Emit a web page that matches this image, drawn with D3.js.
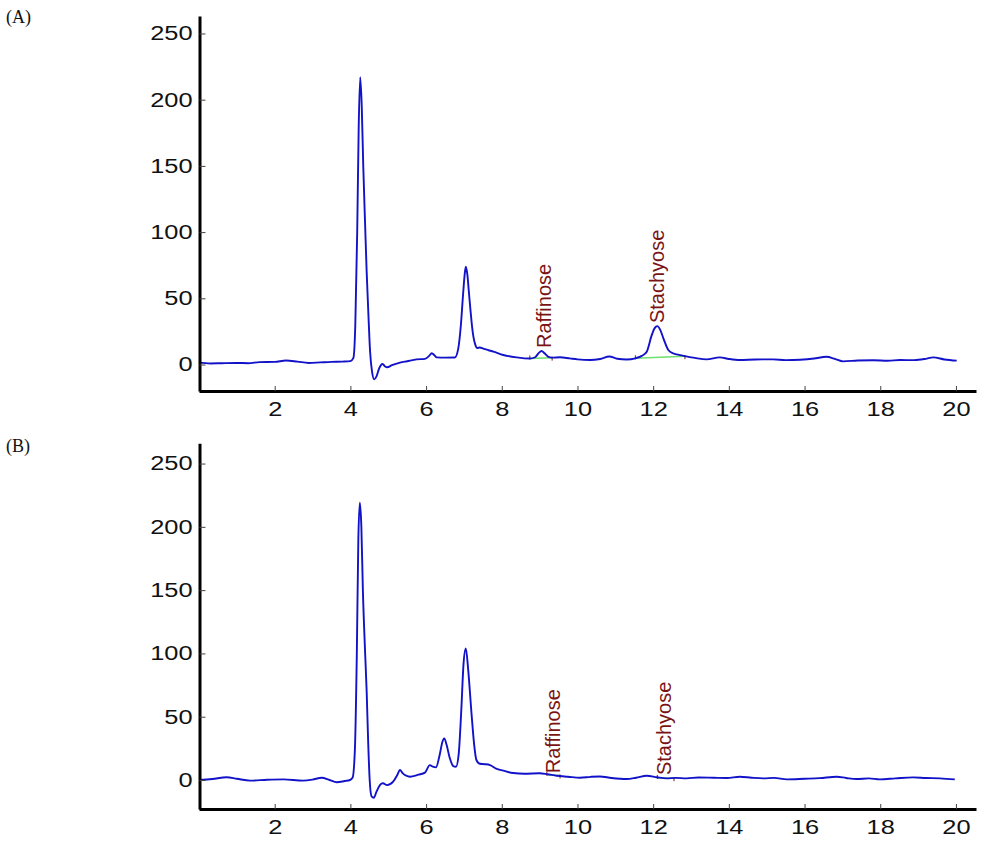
<!DOCTYPE html>
<html><head><meta charset="utf-8">
<script src="https://cdn.jsdelivr.net/npm/d3@7"></script>
<style>body{margin:0;background:#fff}svg{display:block}</style>
</head><body>
<svg id="c" width="984" height="843"></svg>
<script>
// ---- data ----
const xTicks = [2,4,6,8,10,12,14,16,18,20];
const yTicks = [0,50,100,150,200,250];
const panelLabels = ["(A)", "(B)"];

const timeA = [0,0.3,0.6,1.0,1.3,1.6,2.0,2.3,2.6,2.9,3.2,3.5,3.8,4.0,4.08,4.13,4.18,4.22,4.26,4.30,4.34,4.39,4.43,4.48,4.52,4.57,4.63,4.69,4.76,4.85,4.92,4.97,5.1,5.31,5.5,5.75,5.97,6.08,6.15,6.22,6.28,6.5,6.76,6.85,6.92,6.98,7.02,7.05,7.09,7.13,7.17,7.21,7.25,7.30,7.35,7.42,7.51,7.65,7.78,8.04,8.39,8.74,8.88,8.98,9.05,9.13,9.22,9.33,9.54,9.8,10.0,10.33,10.6,10.84,11.05,11.3,11.53,11.7,11.83,11.96,12.04,12.11,12.19,12.27,12.40,12.52,12.62,12.84,13.1,13.41,13.76,14.0,14.29,14.7,15.17,15.5,15.88,16.25,16.58,16.8,17.02,17.4,17.82,18.2,18.52,18.9,19.2,19.4,19.7,20.02];
const signalA = [1.4,0.8,1.0,1.2,1.0,1.8,2.0,3.0,2.2,1.2,1.6,2.0,2.2,2.6,5,30,100,180,217,195,150,105,70,35,10,-5,-11.2,-9,-3,0.4,-1.5,-2.1,-0.5,1.4,2.5,3.9,4.3,6.5,8.5,7,5.4,5.2,5.3,12,30,54,68,73.9,68,55,42,30,21,15,12.5,12.8,12.0,10.8,9.7,7.2,5.4,4.5,5.5,8.8,10.2,8.5,6.0,5.2,5.5,4.6,3.9,3.4,4.2,6.0,4.4,3.8,4.7,6.5,9.7,22,27.5,29,26,19.8,11,8.5,7.7,6.3,5.0,3.9,5.4,4.2,3.4,3.8,3.9,3.3,3.6,4.5,5.9,4.3,2.4,3.0,3.2,2.9,3.4,3.3,4.3,5.4,3.8,2.9];

const timeB = [0,0.35,0.73,1.0,1.35,1.8,2.23,2.75,3.0,3.24,3.45,3.64,3.85,3.99,4.06,4.12,4.17,4.21,4.25,4.29,4.33,4.39,4.43,4.47,4.51,4.56,4.62,4.69,4.78,4.86,4.97,5.13,5.24,5.31,5.38,5.44,5.57,5.8,5.97,6.1,6.18,6.26,6.36,6.43,6.48,6.54,6.62,6.72,6.79,6.86,6.93,6.99,7.05,7.11,7.2,7.27,7.33,7.42,7.55,7.69,7.85,8.04,8.3,8.6,9.0,9.2,9.45,9.75,10.07,10.35,10.59,10.9,11.3,11.55,11.83,12.1,12.35,12.6,12.88,13.2,13.59,13.95,14.29,14.6,14.91,15.2,15.53,16.0,16.4,16.85,17.1,17.37,17.7,17.99,18.4,18.87,19.2,19.58,19.97];
const signalB = [0,0.8,2.2,1.0,-0.5,0.2,0.5,-0.5,0.3,1.8,0.0,-1.8,-0.8,0.0,2,25,100,190,219,200,150,100,70,30,0,-13,-14,-9.2,-4,-2.6,-4,-1.3,4,7.9,5.5,3.9,2.6,4.2,5.8,11.8,10.5,10,20,30,32.9,28,18,11,10.5,20,55,92,104,88,52.7,28,15.8,12.8,12.5,11.8,9,7.4,5.5,5.0,5.3,4.6,3.4,2.6,1.8,2.5,2.8,1.6,0.8,1.8,3.4,2.2,1.3,1.7,1.3,2.0,1.8,1.6,2.6,1.8,1.3,1.7,0.5,1.0,1.5,2.6,1.6,0.8,1.3,0.5,1.3,2.1,1.6,1.3,0.5];

const peakNames = ["Raffinose", "Stachyose"];
// label anchor (time, signal) per panel
const labelTimeA = [9.30, 12.29];
const labelSignalA = [12.5, 31.3];
const labelTimeB = [9.54, 12.47];
const labelSignalB = [5.3, 3.9];
// integration baselines
const baseStartA = [8.74, 11.53], baseEndA = [9.33, 12.84];
const baseStartValA = [4.6, 4.7], baseEndValA = [5.2, 6.3];
const baseStartB = [9.19, 12.11], baseEndB = [9.54, 12.55];
const baseStartValB = [4.2, 1.6], baseEndValB = [3.6, 1.4];

// ---- drawing ----
const svg = d3.select("#c");
const X_RANGE = [199, 976];
const xDomain = [0, 20.53];

const panels = [
  {label: panelLabels[0], labelY: 23, yRange: [391, 16], yDomain: [-20.0, 263.2],
   t: timeA, v: signalA, lt: labelTimeA, lv: labelSignalA,
   bs: baseStartA, be: baseEndA, bsv: baseStartValA, bev: baseEndValA},
  {label: panelLabels[1], labelY: 452, yRange: [809, 443.3], yDomain: [-22.9, 266.0],
   t: timeB, v: signalB, lt: labelTimeB, lv: labelSignalB,
   bs: baseStartB, be: baseEndB, bsv: baseStartValB, bev: baseEndValB}
];

const STRETCH = 1.27;
function stretchText(sel, mode) {
  sel.each(function() {
    const w = this.getComputedTextLength();
    const t = d3.select(this);
    const nw = w * STRETCH;
    t.attr("textLength", nw).attr("lengthAdjust", "spacingAndGlyphs");
    if (mode === "end") {
      const x0 = +t.attr("x");
      t.attr("text-anchor", "start").attr("x", x0 - nw);
    } else {
      t.attr("text-anchor", "start").attr("x", -nw / 2);
    }
  });
}

panels.forEach(p => {
  const x = d3.scaleLinear().domain(xDomain).range(X_RANGE);
  const y = d3.scaleLinear().domain(p.yDomain).range(p.yRange);
  const g = svg.append("g");

  g.append("text").attr("x", 6).attr("y", p.labelY)
    .attr("font-family", "Liberation Serif, Times New Roman, serif")
    .attr("font-size", 18).attr("fill", "#111").text(p.label);

  // baselines (green)
  const bl = g.append("g");
  p.bs.forEach((s, i) => {
    bl.append("line").attr("x1", x(s)).attr("y1", y(p.bsv[i]))
      .attr("x2", x(p.be[i])).attr("y2", y(p.bev[i]))
      .attr("stroke", "#6de06d").attr("stroke-width", 1.5);
    bl.append("line").attr("x1", x(s)).attr("x2", x(s))
      .attr("y1", y(p.bsv[i]) - 3).attr("y2", y(p.bsv[i]) + 1)
      .attr("stroke", "#7a1a1a").attr("stroke-width", 1);
    bl.append("line").attr("x1", x(p.be[i])).attr("x2", x(p.be[i]))
      .attr("y1", y(p.bev[i]) - 1).attr("y2", y(p.bev[i]) + 3)
      .attr("stroke", "#7a1a1a").attr("stroke-width", 1);
  });

  // trace
  const pts = p.t.map((t, i) => [t, p.v[i]]);
  g.append("path").datum(pts)
    .attr("d", d3.line().x(d => x(d[0])).y(d => y(d[1])).curve(d3.curveMonotoneX))
    .attr("fill", "none").attr("stroke", "#1212c8").attr("stroke-width", 1.9)
    .attr("stroke-linejoin", "round");

  // peak labels
  peakNames.forEach((name, i) => {
    g.append("text")
      .attr("transform", `translate(${x(p.lt[i])},${y(p.lv[i])}) rotate(-90)`)
      .attr("font-family", "Liberation Sans, Arial, sans-serif")
      .attr("font-size", 20).attr("fill", "#7a1414").text(name);
  });

  // axes
  const ax = g.append("g").attr("transform", `translate(0,${p.yRange[0]})`)
    .call(d3.axisBottom(x).tickValues(xTicks).tickSizeInner(-5).tickSizeOuter(0).tickPadding(11));
  const ay = g.append("g").attr("transform", `translate(${X_RANGE[0] + 0.5},0)`)
    .call(d3.axisLeft(y).tickValues(yTicks).tickSizeInner(-6).tickSizeOuter(0).tickPadding(7));
  [ax, ay].forEach(a => {
    a.select(".domain").attr("stroke", "#000").attr("stroke-width", 3);
    a.selectAll(".tick line").attr("stroke", "#444").attr("stroke-width", 1);
    a.selectAll(".tick text").attr("font-family", "Liberation Sans, Arial, sans-serif")
      .attr("font-size", 20).attr("fill", "#111");
  });
  stretchText(ax.selectAll(".tick text"), "middle");
  stretchText(ay.selectAll(".tick text"), "end");
});
</script>
</body></html>
